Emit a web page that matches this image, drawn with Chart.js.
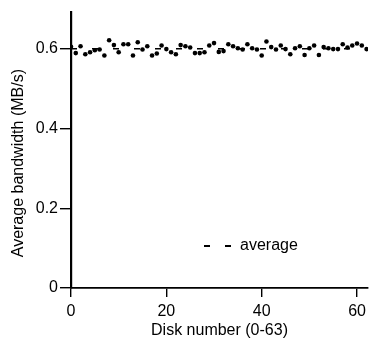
<!DOCTYPE html>
<html>
<head>
<meta charset="utf-8">
<script src="https://cdn.jsdelivr.net/npm/chart.js@4"></script>
<style>
  html, body { margin: 0; padding: 0; background: #fff; }
  #wrap { width: 372px; height: 345px; }
</style>
</head>
<body>
<div id="wrap"><canvas id="bwChart" width="372" height="345"></canvas></div>
<script>
// disk numbers 0-63
const disks = [0, 1, 2, 3, 4, 5, 6, 7, 8, 9, 10, 11, 12, 13, 14, 15,
  16, 17, 18, 19, 20, 21, 22, 23, 24, 25, 26, 27, 28, 29, 30, 31,
  32, 33, 34, 35, 36, 37, 38, 39, 40, 41, 42, 43, 44, 45, 46, 47,
  48, 49, 50, 51, 52, 53, 54, 55, 56, 57, 58, 59, 60, 61, 62, 63];

// average bandwidth per disk (MB/s)
const bandwidth = [0.605, 0.589, 0.606, 0.586, 0.591, 0.596, 0.598, 0.583,
  0.621, 0.609, 0.591, 0.611, 0.611, 0.583, 0.616, 0.598,
  0.606, 0.583, 0.588, 0.608, 0.599, 0.591, 0.586, 0.609,
  0.606, 0.603, 0.589, 0.589, 0.591, 0.608, 0.614, 0.592,
  0.594, 0.611, 0.606, 0.601, 0.598, 0.611, 0.601, 0.598,
  0.583, 0.618, 0.604, 0.598, 0.608, 0.599, 0.586, 0.601,
  0.606, 0.584, 0.601, 0.608, 0.584, 0.604, 0.601, 0.599,
  0.599, 0.611, 0.603, 0.608, 0.613, 0.608, 0.599, 0.602];

const averageValue = [0.600];
const averageSpan = [0, 63];

const xTicks = [0, 20, 40, 60];
const yTicks = [0, 0.2, 0.4, 0.6];

const FONT = { family: "'Liberation Sans', Arial, Helvetica, sans-serif", size: 16 };

// legend drawn inside the plot
const averageLegend = {
  id: 'averageLegend',
  afterDraw(chart) {
    const ctx = chart.ctx;
    ctx.save();
    ctx.strokeStyle = '#000';
    ctx.lineWidth = 1.8;
    ctx.setLineDash([6, 15]);
    ctx.beginPath();
    ctx.moveTo(204, 246);
    ctx.lineTo(231, 246);
    ctx.stroke();
    ctx.setLineDash([]);
    ctx.fillStyle = '#000';
    ctx.font = FONT.size + 'px ' + FONT.family;
    ctx.textBaseline = 'middle';
    ctx.fillText('average', 240, 246);
    ctx.restore();
  }
};

const ctx = document.getElementById('bwChart').getContext('2d');
const bwChart = new Chart(ctx, {
  type: 'scatter',
  data: {
    datasets: [{
      label: 'disk',
      data: disks.map((d, i) => ({ x: d, y: bandwidth[i] })),
      backgroundColor: '#000',
      borderColor: '#000',
      pointRadius: 2.3,
      pointBorderWidth: 0
    }, {
      type: 'line',
      label: 'average',
      data: averageSpan.map(x => ({ x: x, y: averageValue[0] })),
      borderColor: '#000',
      borderWidth: 1.4,
      borderDash: [6, 15],
      pointRadius: 0,
      fill: false
    }]
  },
  options: {
    responsive: false,
    animation: false,
    events: [],
    layout: { padding: { top: 11, right: 0, left: 0, bottom: 0 } },
    plugins: { legend: { display: false }, tooltip: { enabled: false } },
    scales: {
      x: {
        type: 'linear',
        min: 0,
        max: 62.3,
        afterBuildTicks: s => { s.ticks = xTicks.map(v => ({ value: v })); },
        afterFit: s => { s.height = 57; },
        border: { color: '#000', width: 1.8 },
        grid: { drawOnChartArea: false, drawTicks: true, tickLength: 9, color: '#000', lineWidth: 1.4 },
        ticks: { color: '#000', font: FONT, padding: 5, maxRotation: 0 },
        title: { display: true, text: 'Disk number (0-63)', color: '#000', font: FONT, padding: { top: 0, bottom: 5 } }
      },
      y: {
        min: 0,
        max: 0.693,
        afterBuildTicks: s => { s.ticks = yTicks.map(v => ({ value: v })); },
        afterFit: s => { s.width = 71; },
        border: { color: '#000', width: 2.2 },
        grid: { drawOnChartArea: false, drawTicks: true, tickLength: 11, color: '#000', lineWidth: 1.4 },
        ticks: { color: '#000', font: FONT, padding: 2, callback: v => String(v) },
        // trailing spaces push the title a little below the axis centre, as in the original
        title: { display: true, text: 'Average bandwidth (MB/s)      ', color: '#000', font: FONT, padding: { top: 9, bottom: 0 } }
      }
    }
  },
  plugins: [averageLegend]
});
</script>
</body>
</html>
